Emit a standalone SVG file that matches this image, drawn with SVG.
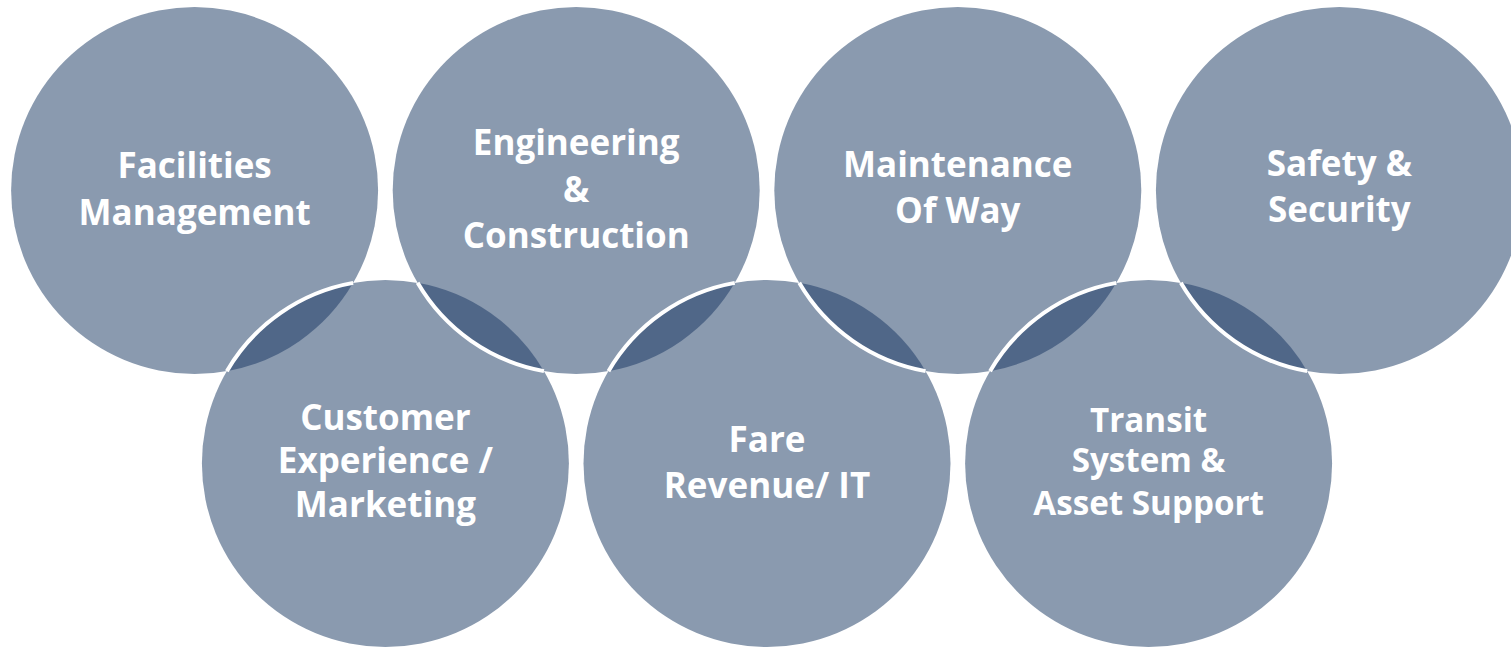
<svg xmlns="http://www.w3.org/2000/svg" width="1511" height="649" viewBox="0 0 1511 649">
<style>
.c{fill:#8a9aaf}
.lens{fill:#506788}
.edge{fill:none;stroke:#ffffff;stroke-width:4}
text{font-family:"Open Sans","Liberation Sans",sans-serif;font-weight:700;font-size:35px;fill:#ffffff;text-anchor:middle}
.sm{font-size:33.2px}
</style>
<rect width="1511" height="649" fill="#ffffff"/>
<g id="facilities"><circle class="c" cx="194.6" cy="190.5" r="183.5"/></g>
<g id="engineering"><circle class="c" cx="576.2" cy="190.5" r="183.5"/></g>
<g id="maintenance"><circle class="c" cx="957.8" cy="190.5" r="183.5"/></g>
<g id="safety"><circle class="c" cx="1339.4" cy="190.5" r="183.5"/></g>
<g id="customer"><circle class="c" cx="385.4" cy="463.5" r="183.5"/></g>
<g id="fare"><circle class="c" cx="767" cy="463.5" r="183.5"/></g>
<g id="transit"><circle class="c" cx="1148.6" cy="463.5" r="183.5"/></g>
<g id="connectors">
<path class="lens" d="M226.84 371.15A183.5 183.5 0 0 1 353.16 282.85A183.5 183.5 0 0 1 226.84 371.15Z"/>
<path class="lens" d="M608.44 371.15A183.5 183.5 0 0 1 734.76 282.85A183.5 183.5 0 0 1 608.44 371.15Z"/>
<path class="lens" d="M990.04 371.15A183.5 183.5 0 0 1 1116.36 282.85A183.5 183.5 0 0 1 990.04 371.15Z"/>
<path class="lens" d="M543.96 371.15A183.5 183.5 0 0 1 417.64 282.85A183.5 183.5 0 0 1 543.96 371.15Z"/>
<path class="lens" d="M925.56 371.15A183.5 183.5 0 0 1 799.24 282.85A183.5 183.5 0 0 1 925.56 371.15Z"/>
<path class="lens" d="M1307.16 371.15A183.5 183.5 0 0 1 1180.84 282.85A183.5 183.5 0 0 1 1307.16 371.15Z"/>
<path class="edge" d="M226.84 371.15A183.5 183.5 0 0 1 353.16 282.85"/>
<path class="edge" d="M608.44 371.15A183.5 183.5 0 0 1 734.76 282.85"/>
<path class="edge" d="M990.04 371.15A183.5 183.5 0 0 1 1116.36 282.85"/>
<path class="edge" d="M543.96 371.15A183.5 183.5 0 0 1 417.64 282.85"/>
<path class="edge" d="M925.56 371.15A183.5 183.5 0 0 1 799.24 282.85"/>
<path class="edge" d="M1307.16 371.15A183.5 183.5 0 0 1 1180.84 282.85"/>
</g>
<g id="labels">
<text x="194.6" y="178">Facilities</text>
<text x="194.6" y="225">Management</text>
<text x="576.2" y="155">Engineering</text>
<text x="576.2" y="201.5">&amp;</text>
<text x="576.2" y="248">Construction</text>
<text x="957.8" y="177">Maintenance</text>
<text x="957.8" y="222.5">Of Way</text>
<text x="1339.4" y="176">Safety &amp;</text>
<text x="1339.4" y="222">Security</text>
<text x="385.4" y="430">Customer</text>
<text x="385.4" y="473.3">Experience /</text>
<text x="385.4" y="516.7">Marketing</text>
<text x="767" y="451.7">Fare</text>
<text x="767" y="498.3">Revenue/ IT</text>
<text class="sm" x="1148.6" y="431.7">Transit</text>
<text class="sm" x="1148.6" y="472.3">System &amp;</text>
<text class="sm" x="1148.6" y="515">Asset Support</text>
</g>
</svg>
